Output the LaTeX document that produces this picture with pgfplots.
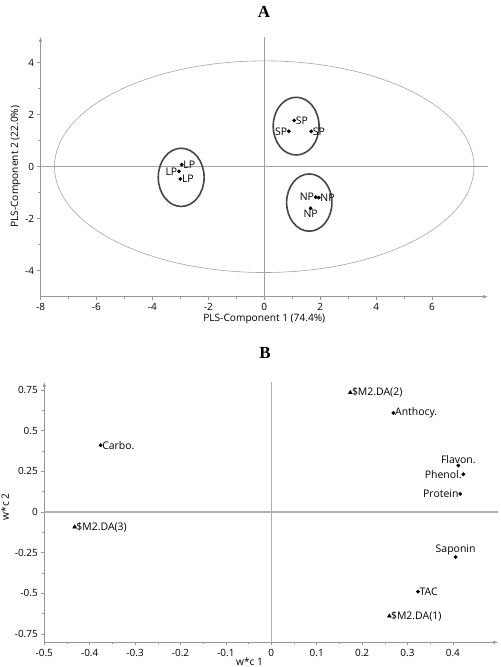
\documentclass[border=0pt]{standalone}
\usepackage{fontspec}
\setmainfont{Open Sans}
\newfontfamily\titlefont{Liberation Serif}
\usepackage{pgfplots}
\pgfplotsset{compat=1.18}
\usetikzlibrary{arrows.meta}
\definecolor{axgray}{RGB}{150,150,150}
\definecolor{zerogray}{RGB}{160,160,160}
\definecolor{zerograyB}{RGB}{175,175,175}
\definecolor{ellgray}{RGB}{70,70,70}
\definecolor{bigell}{RGB}{165,165,165}

\pgfplotsset{
 myaxis/.style={
  scale only axis, axis lines=left,
  axis line style={axgray, line width=0.8bp, -{Latex[length=5bp,width=3.5bp]}},
  tick style={axgray, line width=0.6bp},
  tick align=outside,
  major tick length=3bp, minor tick length=2bp,
  minor tick num=1,
  ticklabel style={font=\fontsize{10}{11}\selectfont, text=black},
  /pgf/number format/assume math mode=true,
  label style={font=\fontsize{10.2}{11}\selectfont},
  clip=false,
 },
 lab/.style={only marks, mark=*, mark size=1.7bp, black,
  nodes near coords, point meta=explicit symbolic,
  every node near coord/.append style={anchor=#1, inner sep=1.5bp, font=\fontsize{10.5}{11}\selectfont}},
}

\begin{document}
\begin{tikzpicture}
\useasboundingbox (0,0) rectangle (501bp,667bp);

\begin{axis}[myaxis, at={(40.5bp,370.3bp)}, anchor=south west,
  width=447.5bp, height=260bp,
  xmin=-8, xmax=8, ymin=-5, ymax=5,
  xtick={-8,-6,-4,-2,0,2,4,6}, ytick={-4,-2,0,2,4},
  xlabel={PLS-Component 1 (74.4\%)}, ylabel={PLS-Component 2 (22.0\%)},
  xlabel style={at={(axis description cs:0.5,-0.085)}, anchor=center},
  ylabel style={at={(axis description cs:-0.0554,0.5)}, anchor=center}]
\addplot[zerogray, line width=0.8bp] coordinates {(0,-5) (0,5)};
\addplot[zerogray, line width=0.8bp] coordinates {(-8,0) (8,0)};
\draw[bigell, line width=0.6bp] (axis cs:0,0) ellipse [x radius=7.5, y radius=4.07];
\draw[ellgray, line width=1.6bp] (axis cs:-2.97,-0.41) ellipse [x radius=0.82, y radius=1.12];
\draw[ellgray, line width=1.6bp] (axis cs:1.14,1.56) ellipse [x radius=0.82, y radius=1.11];
\draw[ellgray, line width=1.6bp] (axis cs:1.61,-1.38) ellipse [x radius=0.81, y radius=1.10];
% labels to the right
\addplot[lab=west] coordinates {(-2.95,0.08) [LP] (-3.00,-0.47) [LP] (1.07,1.78) [SP] (1.68,1.36) [SP] (1.95,-1.19) [NP]};
% labels to the left
\addplot[lab=east] coordinates {(-3.05,-0.18) [LP] (0.88,1.36) [SP] (1.84,-1.17) [NP]};
% label below
\addplot[lab=north] coordinates {(1.66,-1.60) [NP]};
\node[font=\titlefont\bfseries\fontsize{17}{17}\selectfont] at (axis description cs:0.4994,1.095) {A};
\end{axis}

\begin{axis}[myaxis, at={(44.3bp,24.7bp)}, anchor=south west,
  width=454bp, height=260.6bp,
  xmin=-0.5, xmax=0.5, ymin=-0.8, ymax=0.8,
  xtick={-0.5,-0.4,-0.3,-0.2,-0.1,0,0.1,0.2,0.3,0.4},
  ytick={-0.75,-0.5,-0.25,0,0.25,0.5,0.75},
  xlabel={w*c 1}, ylabel={w*c 2},
  xlabel style={at={(axis description cs:0.452,-0.073)}, anchor=center},
  ylabel style={at={(axis description cs:-0.0866,0.52)}, anchor=center}]
\addplot[zerograyB, line width=1.2bp] coordinates {(0,-0.8) (0,0.8)};
\addplot[zerograyB, line width=1.2bp] coordinates {(-0.5,0) (0.5,0)};
\addplot[lab=west] coordinates {(-0.376,0.410) [Carbo.] (0.269,0.608) [Anthocy.] (0.323,-0.489) [TAC]};
\addplot[lab=east] coordinates {(0.423,0.232) [Phenol.] (0.416,0.111) [Protein]};
\addplot[lab=south] coordinates {(0.412,0.285) [Flavon.] (0.406,-0.276) [Saponin]};
\addplot[lab=west, mark=triangle*, mark size=2.3bp] coordinates {(0.174,0.733) [\$M2.DA(2)] (-0.433,-0.092) [\$M2.DA(3)] (0.260,-0.639) [\$M2.DA(1)]};
\node[font=\titlefont\bfseries\fontsize{17}{17}\selectfont] at (axis description cs:0.486,1.11) {B};
\end{axis}
\end{tikzpicture}
\end{document}
